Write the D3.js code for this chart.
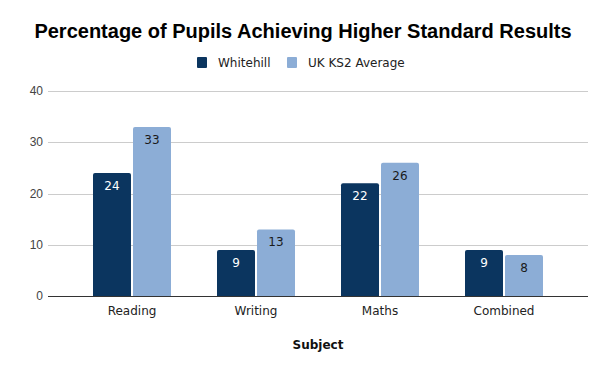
<!DOCTYPE html>
<html>
<head>
<meta charset="utf-8">
<script src="https://cdn.jsdelivr.net/npm/d3@7"></script>
<style>
  body { margin: 0; background: #fff; }
  svg { display: block; }
</style>
</head>
<body>
<svg></svg>
<script>
let width = 606,
  height = 371;

// Chart data
const subjects = ["Reading", "Writing", "Maths", "Combined"];
const seriesNames = ["Whitehill", "UK KS2 Average"];
const whitehill = [24, 9, 22, 9];
const ukAverage = [33, 13, 26, 8];
const yTicks = [0, 10, 20, 30, 40];

const colors = ["#0b355f", "#8cadd6"];
const labelColors = ["#ffffff", "#1a1a1a"];

let svg = d3.select("svg").attr("width", width).attr("height", height);

// Title
svg
  .append("text")
  .attr("x", 303)
  .attr("y", 38)
  .attr("text-anchor", "middle")
  .style("font-family", "'Liberation Sans', Arial, sans-serif")
  .style("font-weight", "bold")
  .style("font-size", "20px")
  .text("Percentage of Pupils Achieving Higher Standard Results");

// Legend
let legendItems = [
  { name: seriesNames[0], x: 197, color: colors[0] },
  { name: seriesNames[1], x: 287, color: colors[1] },
];
let legend = svg.append("g").attr("class", "legend");
legend
  .selectAll("rect")
  .data(legendItems)
  .enter()
  .append("rect")
  .attr("x", (d) => d.x)
  .attr("y", 57)
  .attr("width", 10)
  .attr("height", 11)
  .attr("rx", 1)
  .attr("fill", (d) => d.color);
legend
  .selectAll("text")
  .data(legendItems)
  .enter()
  .append("text")
  .attr("x", (d) => d.x + 21)
  .attr("y", 67)
  .style("font-family", "'DejaVu Sans', sans-serif")
  .style("font-size", "12px")
  .attr("fill", "#222")
  .text((d) => d.name);

// Scales
let y = d3.scaleLinear().domain([0, 40]).range([296, 91]);

let x = d3.scaleBand().domain(subjects).range([70, 566]);

let xInner = d3
  .scaleBand()
  .domain(seriesNames)
  .range([x.bandwidth() / 2 - 39, x.bandwidth() / 2 + 39])
  .paddingInner(0.05);

// Gridlines + y labels
let grid = svg.append("g");
grid
  .selectAll("line")
  .data(yTicks.filter((d) => d > 0))
  .enter()
  .append("line")
  .attr("x1", 48)
  .attr("x2", 588)
  .attr("y1", (d) => Math.round(y(d)) + 0.5)
  .attr("y2", (d) => Math.round(y(d)) + 0.5)
  .attr("stroke", "#cccccc")
  .attr("stroke-width", 1);

grid
  .selectAll("text")
  .data(yTicks)
  .enter()
  .append("text")
  .attr("x", 43)
  .attr("y", (d) => y(d) + 4)
  .attr("text-anchor", "end")
  .style("font-family", "'Liberation Sans', Arial, sans-serif")
  .style("font-size", "12px")
  .attr("fill", "#444")
  .text((d) => d);

// Bars
let rows = subjects.map((s, i) => ({
  subject: s,
  values: [whitehill[i], ukAverage[i]],
}));

function topRounded(x0, y0, w, h, r) {
  return (
    "M" + x0 + "," + (y0 + h) +
    "V" + (y0 + r) +
    "Q" + x0 + "," + y0 + " " + (x0 + r) + "," + y0 +
    "H" + (x0 + w - r) +
    "Q" + (x0 + w) + "," + y0 + " " + (x0 + w) + "," + (y0 + r) +
    "V" + (y0 + h) + "Z"
  );
}

let groups = svg
  .append("g")
  .selectAll("g")
  .data(rows)
  .enter()
  .append("g")
  .attr("transform", (d) => "translate(" + x(d.subject) + ",0)");

groups
  .selectAll("path")
  .data((d) => d.values.map((v, j) => ({ v: v, j: j })))
  .enter()
  .append("path")
  .attr("d", (d) =>
    topRounded(
      xInner(seriesNames[d.j]),
      y(d.v),
      xInner.bandwidth(),
      y(0) - y(d.v),
      2
    )
  )
  .attr("fill", (d) => colors[d.j]);

groups
  .selectAll("text")
  .data((d) => d.values.map((v, j) => ({ v: v, j: j })))
  .enter()
  .append("text")
  .attr("x", (d) => xInner(seriesNames[d.j]) + xInner.bandwidth() / 2)
  .attr("y", (d) => y(d.v) + 17)
  .attr("text-anchor", "middle")
  .style("font-family", "'DejaVu Sans', sans-serif")
  .style("font-size", "12px")
  .attr("fill", (d) => labelColors[d.j])
  .text((d) => d.v);

// Baseline
svg
  .append("line")
  .attr("x1", 48)
  .attr("x2", 588)
  .attr("y1", 296.5)
  .attr("y2", 296.5)
  .attr("stroke", "#333")
  .attr("stroke-width", 1);

// x labels
svg
  .append("g")
  .selectAll("text")
  .data(subjects)
  .enter()
  .append("text")
  .attr("x", (d) => x(d) + x.bandwidth() / 2)
  .attr("y", 315)
  .attr("text-anchor", "middle")
  .style("font-family", "'DejaVu Sans', sans-serif")
  .style("font-size", "12px")
  .attr("fill", "#222")
  .text((d) => d);

// x axis title
svg
  .append("text")
  .attr("x", 318)
  .attr("y", 349)
  .attr("text-anchor", "middle")
  .style("font-family", "'DejaVu Sans', sans-serif")
  .style("font-weight", "bold")
  .style("font-size", "12px")
  .attr("fill", "#111")
  .text("Subject");
</script>
</body>
</html>
